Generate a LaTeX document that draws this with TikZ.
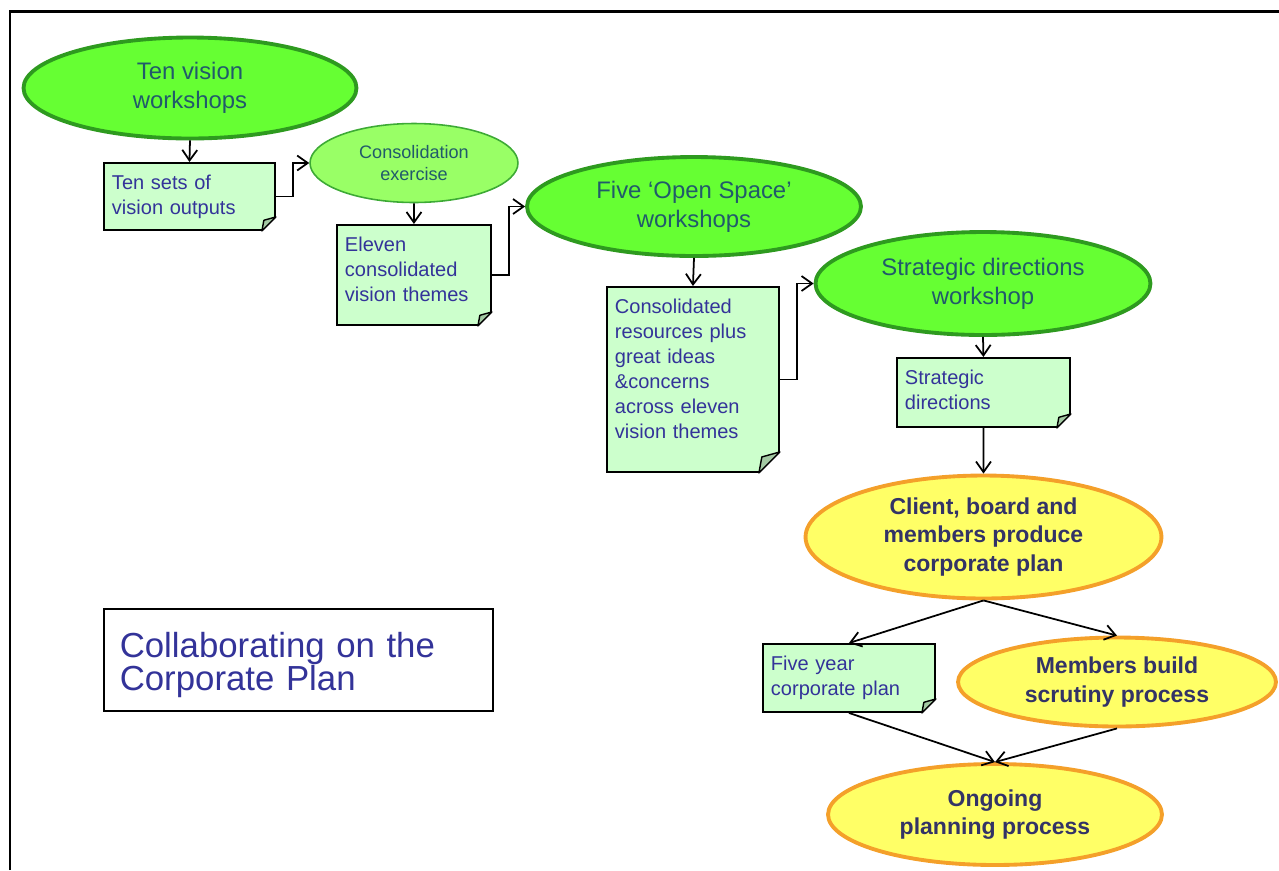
\documentclass[tikz,border=0pt]{standalone}
\usepackage{fontspec}
\setmainfont{Liberation Sans}
\usetikzlibrary{shapes.geometric,arrows.meta}

\definecolor{ovalFill}{HTML}{66FF33}
\definecolor{ovalLine}{HTML}{2E9A1F}
\definecolor{ovalText}{HTML}{215A6B}
\definecolor{lightFill}{HTML}{99FF66}
\definecolor{lightLine}{HTML}{3DAA35}
\definecolor{noteFill}{HTML}{CCFFCC}
\definecolor{foldFill}{HTML}{A3C9A3}
\definecolor{noteText}{HTML}{333399}
\definecolor{planFill}{HTML}{FFFF66}
\definecolor{planLine}{HTML}{F4A02A}
\definecolor{planText}{HTML}{333366}

\begin{document}
\begin{tikzpicture}[x=0.02cm, y=-0.02cm,
            bigOval/.style={ellipse, draw=ovalLine, line width=2.2pt, fill=ovalFill, text=ovalText,
                inner sep=0pt, align=center, font=\fontsize{13.6}{16.3}\selectfont},
            smallOval/.style={ellipse, draw=lightLine, line width=0.9pt, fill=lightFill, text=ovalText,
                inner sep=0pt, align=center, font=\fontsize{10.3}{12.5}\selectfont},
            planOval/.style={ellipse, draw=planLine, line width=2.2pt, fill=planFill, text=planText,
                inner sep=0pt, align=center, font=\fontsize{13.1}{16.3}\selectfont\bfseries},
            noteBox/.style={rectangle, draw=black, line width=1.1pt, fill=noteFill, text=noteText,
                anchor=north west, align=left, text width=3.1cm, inner xsep=0.16cm, inner ysep=0.24cm,
                font=\fontsize{11.4}{14.2}\selectfont},
            noteFold/.style={fill=foldFill, draw=black, line width=0.8pt, line join=round},
            titleBox/.style={rectangle, draw=black, line width=0.9pt, fill=white, text=noteText,
                anchor=north west, align=left, text width=7.15cm, inner xsep=0.32cm, minimum height=2.04cm,
                text depth=0.6cm, font=\fontsize{19.8}{19}\selectfont},
            flow/.style={draw=black, line width=1pt, -{Straight Barb[length=6pt,width=8.5pt]}}]

            \useasboundingbox (0,0) rectangle (1279,870);
            \draw[line width=1.7pt] (10,870) -- (10,11) -- (1279,11);

            \node[bigOval, minimum width=6.66cm, minimum height=2.02cm] (visionWs) at (190,88) {Ten vision\\workshops};
            \node[noteBox, text depth=0.57cm] (visionOut) at (103,162) {Ten sets of\\vision outputs};
            \node[smallOval, minimum width=4.16cm, minimum height=1.58cm] (consEx) at (414,163) {Consolidation\\exercise};
            \node[noteBox, text width=2.76cm, text depth=1.23cm] (elevenThemes) at (336,224) {Eleven\\consolidated\\vision themes};
            \node[bigOval, minimum width=6.68cm, minimum height=1.98cm] (openSpace) at (694,206.5) {Five ‘Open Space’\\workshops};
            \node[noteBox, text width=3.12cm, text depth=2.93cm] (consRes) at (606,286)
                {Consolidated\\resources plus\\great ideas\\\&concerns\\across eleven\\vision themes};
            \node[bigOval, minimum width=6.7cm, minimum height=2.06cm] (stratWs) at (983,283.5) {Strategic directions\\workshop};
            \node[noteBox, text width=3.14cm, text depth=0.61cm] (stratDir) at (896,357) {Strategic\\directions};
            \node[planOval, minimum width=7.12cm, minimum height=2.46cm] (planProd) at (983.5,537) {Client, board and\\members produce\\corporate plan};
            \node[noteBox, text width=3.12cm, text depth=0.59cm] (fiveYear) at (762,643) {Five year\\corporate plan};
            \node[planOval, minimum width=6.36cm, minimum height=1.78cm] (scrutiny) at (1117,682) {Members build\\scrutiny process};
            \node[planOval, minimum width=6.68cm, minimum height=2.02cm] (ongoing) at (995,814.5) {Ongoing\\planning process};
            \node[titleBox] (caption) at (103,608) {Collaborating on the\\Corporate Plan};

            % folded corners of the notes
            \foreach \n/\f in {visionOut/14, elevenThemes/14, consRes/21, stratDir/14, fiveYear/14} {
                \fill[white] (\n.south east) ++(-\f,0) -- ++(\f,-\f) -- ++(3,0) -- ++(0,\f+3) -- ++(-\f-3,0) -- cycle;
                \filldraw[noteFold] (\n.south east) ++(-\f,0) -- ++(\f,-\f) -- ++(-0.86*\f,0.24*\f) -- cycle;
            }

            \draw[flow] (visionWs.south) -- (visionOut.north);
            \draw[flow] (visionOut.east) -- ++(17,0) |- (consEx.west);
            \draw[flow] (consEx.south) -- (elevenThemes.north);
            \draw[flow] (elevenThemes.east) -- ++(17,0) |- (openSpace.west);
            \draw[flow] (openSpace.south) -- (consRes.north);
            \draw[flow] (consRes.east) -- ++(17,0) |- (stratWs.west);
            \draw[flow] (stratWs.south) -- (stratDir.north);
            \draw[flow] (stratDir.south) -- (planProd.north);
            \draw[flow] (planProd.south) -- (fiveYear.north);
            \draw[flow] (planProd.south) -- (scrutiny.north);
            \draw[flow] (fiveYear.south) -- (ongoing.north);
            \draw[flow] (scrutiny.south) -- (ongoing.north);
        \end{tikzpicture}
\end{document}
